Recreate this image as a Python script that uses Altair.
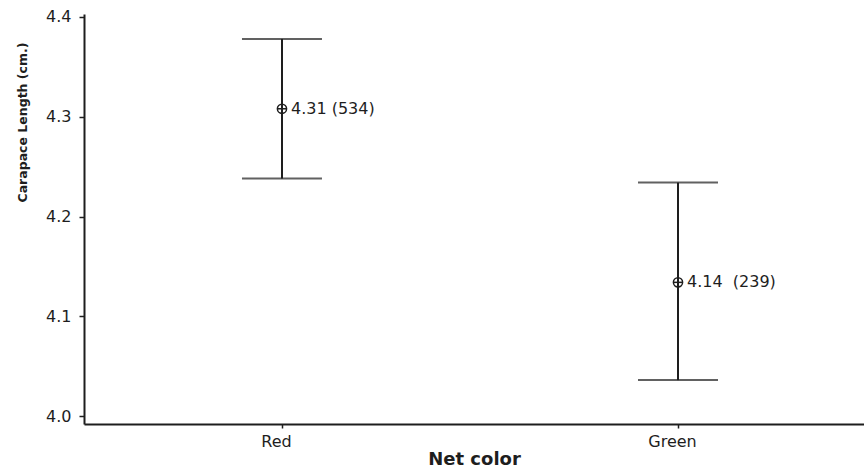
import altair as alt
import pandas as pd

categories = ["Red", "Green"]
means = [4.308, 4.134]
upper = [4.378, 4.234]
lower = [4.238, 4.036]
labels = ["4.31 (534)", "4.14\u00a0\u00a0(239)"]
y_ticks = [4.0, 4.1, 4.2, 4.3, 4.4]

df = pd.DataFrame({"net": categories, "mean": means, "hi": upper, "lo": lower, "label": labels})

FONT = "DejaVu Sans"
INK = "#1e1e1e"

xenc = alt.X(
    "net:N",
    sort=categories,
    scale=alt.Scale(type="point", padding=0.4848, align=0.5156),
    axis=alt.Axis(
        title="Net color",
        labelAngle=0,
        labelFont=FONT,
        labelFontSize=16,
        labelColor=INK,
        labelPadding=5,
        labelOffset=-6,
        tickSize=4,
        tickWidth=1.5,
        tickColor=INK,
        domainColor=INK,
        domainWidth=2,
        titleFont=FONT,
        titleFontSize=18,
        titleFontWeight="bold",
        titleColor=INK,
        titlePadding=1,
    ),
)

yscale = alt.Scale(domain=[3.992, 4.403], nice=False, zero=False)

yenc = alt.Y(
    "lo:Q",
    scale=yscale,
    axis=alt.Axis(
        title="Carapace Length (cm.)",
        values=y_ticks,
        format=".1f",
        grid=False,
        labelFont=FONT,
        labelFontSize=16,
        labelColor=INK,
        labelPadding=8,
        tickSize=5,
        tickWidth=1.5,
        tickColor=INK,
        domainColor=INK,
        domainWidth=2,
        titleFont=FONT,
        titleFontSize=12.5,
        titleFontWeight="bold",
        titleColor=INK,
        titleX=-62,
        titleY=108,
        titleAngle=270,
        titleAlign="center",
        titleBaseline="middle",
    ),
)

base = alt.Chart(df)

rule = base.mark_rule(color=INK, strokeWidth=2).encode(x=xenc, y=yenc, y2="hi:Q")
cap_hi = base.mark_tick(color=INK, size=80, thickness=2).encode(
    x=alt.X("net:N", sort=categories), y=alt.Y("hi:Q", scale=yscale)
)
cap_lo = base.mark_tick(color=INK, size=80, thickness=2).encode(
    x=alt.X("net:N", sort=categories), y=alt.Y("lo:Q", scale=yscale)
)
ring = base.mark_point(shape="circle", filled=False, color=INK, size=85, strokeWidth=1.5, opacity=1).encode(
    x=alt.X("net:N", sort=categories), y=alt.Y("mean:Q", scale=yscale)
)
bar = base.mark_point(shape="M-1,0L1,0", filled=False, color=INK, size=100, strokeWidth=1.5, opacity=1).encode(
    x=alt.X("net:N", sort=categories), y=alt.Y("mean:Q", scale=yscale)
)
text = base.mark_text(align="left", baseline="middle", dx=9, font=FONT, fontSize=16, color=INK).encode(
    x=alt.X("net:N", sort=categories), y=alt.Y("mean:Q", scale=yscale), text="label:N"
)

chart = (
    alt.layer(rule, cap_hi, cap_lo, ring, bar, text)
    .properties(
        width=780,
        height=410,
        autosize=alt.AutoSizeParams(type="none"),
        padding={"left": 84, "top": 14, "right": 0, "bottom": 47},
        background="white",
    )
    .configure_view(stroke=None)
)

chart.save("out.html", embed_options={"renderer": "svg", "actions": False})
